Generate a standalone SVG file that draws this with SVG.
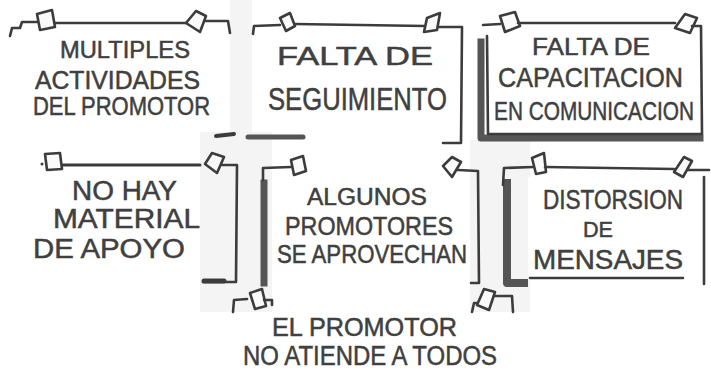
<svg xmlns="http://www.w3.org/2000/svg" width="711" height="371" viewBox="0 0 711 371">
<style>
.ln{fill:none;stroke:#3c3c3c;stroke-width:2.6;stroke-linejoin:round;stroke-linecap:round}
.pin{fill:#fafafa;stroke:#3c3c3c;stroke-width:2.6;stroke-linejoin:round}
.sh{fill:none;stroke:#555555;stroke-width:7;stroke-linejoin:round;stroke-linecap:square}
.t{font-family:"Liberation Sans","DejaVu Sans",sans-serif;fill:#404040;stroke:#404040;stroke-width:0.5;text-anchor:start}
.bg{fill:#f4f4f4}
</style>
<rect width="711" height="371" fill="#ffffff"/>
<rect class="bg" x="200" y="132" width="72" height="180"/>
<rect class="bg" x="440" y="140" width="90" height="172"/>
<rect class="bg" x="230" y="0" width="22" height="140"/>
<rect x="272" y="140" width="198" height="172" fill="#ffffff"/>
<rect x="528" y="177" width="175" height="103" fill="#ffffff"/>

<g id="connectors"></g>

<g id="note-multiples">
<path class="ln" d="M 10 36 L 12 28 L 20 28 L 22 22 L 37 22"/>
<polygon class="pin" points="37,14 52,10 55,27 40,30"/>
<path class="ln" d="M 55 23 L 186 23"/>
<polygon class="pin" points="186,23 196,11 206,16 200,32"/>
<path class="ln" d="M 205 21 L 228 21 L 230 33"/>
<path class="ln" d="M 216 136 L 234 134" style="stroke-width:4"/>
<text class="t" x="60" y="58" font-size="23" textLength="130" lengthAdjust="spacingAndGlyphs">MULTIPLES</text>
<text class="t" x="35" y="89" font-size="25" textLength="165" lengthAdjust="spacingAndGlyphs">ACTIVIDADES</text>
<text class="t" x="33" y="115" font-size="25" textLength="177" lengthAdjust="spacingAndGlyphs">DEL PROMOTOR</text>
</g>

<g id="note-seguimiento">
<path class="ln" d="M 253 34 L 254 26 L 280 25"/>
<polygon class="pin" points="280,18 290,13 295,26 286,31"/>
<path class="ln" d="M 295 24 L 425 26"/>
<polygon class="pin" points="427,18 440,13 437,30 424,32"/>
<path class="ln" d="M 438 27 L 462 27 L 461 143 L 443 143"/>
<path class="ln" d="M 248 137 L 303 137" style="stroke-width:5;stroke:#555"/>
<text class="t" x="277" y="65" font-size="26" textLength="156" lengthAdjust="spacingAndGlyphs">FALTA DE</text>
<text class="t" x="268" y="110" font-size="31" textLength="179" lengthAdjust="spacingAndGlyphs">SEGUIMIENTO</text>
</g>

<g id="note-capacitacion">
<path class="sh" d="M 481 42 L 481 138 L 700 138"/>
<path class="ln" d="M 483 25 L 500 24"/>
<polygon class="pin" points="500,16 515,12 520,26 505,32"/>
<path class="ln" d="M 518 23 L 675 23"/>
<polygon class="pin" points="675,28 685,14 697,18 690,33"/>
<path class="ln" d="M 692 26 L 701 26 L 702 134 L 488 134 L 487 36"/>
<text class="t" x="532" y="55" font-size="23" textLength="118" lengthAdjust="spacingAndGlyphs">FALTA DE</text>
<text class="t" x="498" y="87" font-size="28" textLength="185" lengthAdjust="spacingAndGlyphs">CAPACITACION</text>
<text class="t" transform="translate(494,120) scale(0.8,1)" font-size="26" textLength="250" lengthAdjust="spacingAndGlyphs">EN COMUNICACION</text>
</g>

<g id="note-material">
<circle cx="42" cy="164" r="1.5" fill="#3c3c3c"/>
<polygon class="pin" points="45,154 60,153 62,169 47,170"/>
<path class="ln" d="M 63 165 L 200 165" style="stroke-width:3"/>
<polygon class="pin" points="205,164 212,153 224,157 217,173"/>
<path class="ln" d="M 222 165 L 237 165 L 236 282 L 203 282"/>
<path class="ln" d="M 204 281 L 224 281" style="stroke-width:5"/>
<text class="t" x="72" y="200" font-size="27" textLength="105" lengthAdjust="spacingAndGlyphs">NO HAY</text>
<text class="t" x="53" y="228" font-size="27" textLength="147" lengthAdjust="spacingAndGlyphs">MATERIAL</text>
<text class="t" x="33" y="258" font-size="27" textLength="152" lengthAdjust="spacingAndGlyphs">DE APOYO</text>
</g>

<g id="note-aprovechan">
<path class="sh" d="M 264 183 L 264 283"/>
<path class="ln" d="M 263 180 L 263 168 L 291 167"/>
<polygon class="pin" points="291,160 303,156 306,171 294,175"/>
<polygon class="pin" points="443,166 452,157 461,162 452,177"/>
<path class="ln" d="M 458 170 L 478 171 L 479 283 L 471 283"/>
<text class="t" x="307" y="205" font-size="23" textLength="120" lengthAdjust="spacingAndGlyphs">ALGUNOS</text>
<text class="t" x="285" y="235" font-size="25" textLength="168" lengthAdjust="spacingAndGlyphs">PROMOTORES</text>
<text class="t" x="277" y="263" font-size="25" textLength="190" lengthAdjust="spacingAndGlyphs">SE APROVECHAN</text>
</g>

<g id="note-distorsion">
<path class="sh" d="M 507 183 L 507 283 L 524 283" style="stroke-width:8"/>
<path class="ln" d="M 503 185 L 504 168 L 533 167"/>
<polygon class="pin" points="532,158 544,153 546,172 536,174"/>
<path class="ln" d="M 545 167 L 674 169"/>
<polygon class="pin" points="674,172 684,157 692,161 683,177"/>
<path class="ln" d="M 688 170 L 709 170"/>
<path class="ln" d="M 704 177 L 704 284"/>
<path class="ln" d="M 530 278 L 683 278"/>
<text class="t" x="543" y="209" font-size="27" textLength="140" lengthAdjust="spacingAndGlyphs">DISTORSION</text>
<text class="t" x="583" y="237" font-size="22" textLength="30" lengthAdjust="spacingAndGlyphs">DE</text>
<text class="t" x="533" y="269" font-size="27" textLength="150" lengthAdjust="spacingAndGlyphs">MENSAJES</text>
</g>

<g id="note-atiende">
<path class="ln" d="M 233 312 L 234 300 L 247 299"/>
<polygon class="pin" points="250,293 262,289 266,306 255,309"/>
<path class="ln" d="M 264 300 L 272 300 L 272 305"/>
<path class="ln" d="M 472 312 L 474 303 L 479 303"/>
<polygon class="pin" points="477,305 484,289 495,292 489,310"/>
<path class="ln" d="M 494 296 L 512 296 L 513 312"/>
<text class="t" x="272" y="336" font-size="25" textLength="185" lengthAdjust="spacingAndGlyphs">EL PROMOTOR</text>
<text class="t" x="243" y="365" font-size="27" textLength="254" lengthAdjust="spacingAndGlyphs">NO ATIENDE A TODOS</text>
</g>
</svg>
